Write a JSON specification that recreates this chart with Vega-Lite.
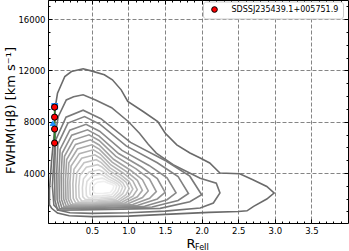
{
"$schema":"https://vega.github.io/schema/vega-lite/v6.json",
"width":300,"height":223,
"autosize":{"type":"none"},
"padding":{"left":48,"top":0,"right":1,"bottom":28},
"config":{"view":{"stroke":"black","strokeWidth":1},"font":"DejaVu Sans",
"axis":{"labelFont":"DejaVu Sans","labelFontSize":8.5,"labelColor":"black","tickColor":"black","titleFont":"DejaVu Sans","titleFontWeight":"normal","titleColor":"black","domain":false,"grid":false,"gridColor":"#666666","gridDash":[4,2],"gridWidth":0.8}},
"datasets":{
"cont":[
{"c":1,"i":0,"x":-0.08,"y":1530},{"c":1,"i":1,"x":-0.08,"y":2700},{"c":1,"i":2,"x":-0.05,"y":5035},{"c":1,"i":3,"x":-0.01,"y":7370},{"c":1,"i":4,"x":0.0,"y":9170},{"c":1,"i":5,"x":0.03,"y":10230},{"c":1,"i":6,"x":0.13,"y":11530},{"c":1,"i":7,"x":0.22,"y":11920},{"c":1,"i":8,"x":0.38,"y":12130},{"c":1,"i":9,"x":0.49,"y":11970},{"c":1,"i":10,"x":0.67,"y":11660},{"c":1,"i":11,"x":0.78,"y":11270},{"c":1,"i":12,"x":0.9,"y":10490},{"c":1,"i":13,"x":0.99,"y":9580},{"c":1,"i":14,"x":1.2,"y":8800},{"c":1,"i":15,"x":1.4,"y":8020},{"c":1,"i":16,"x":1.5,"y":7120},{"c":1,"i":17,"x":1.66,"y":6200},{"c":1,"i":18,"x":1.84,"y":5560},{"c":1,"i":19,"x":1.98,"y":5170},{"c":1,"i":20,"x":2.11,"y":4780},{"c":1,"i":21,"x":2.25,"y":4000},{"c":1,"i":22,"x":2.52,"y":3940},{"c":1,"i":23,"x":2.7,"y":3480},{"c":1,"i":24,"x":2.89,"y":2950},{"c":1,"i":25,"x":2.99,"y":2440},{"c":1,"i":26,"x":2.89,"y":1970},{"c":1,"i":27,"x":2.71,"y":1400},{"c":1,"i":28,"x":2.62,"y":1050},{"c":1,"i":29,"x":2.5,"y":1000},{"c":1,"i":30,"x":2.1,"y":930},{"c":1,"i":31,"x":1.5,"y":770},{"c":1,"i":32,"x":1.0,"y":640},{"c":1,"i":33,"x":0.5,"y":600},{"c":1,"i":34,"x":0.19,"y":660},{"c":1,"i":35,"x":0.03,"y":880},{"c":1,"i":36,"x":-0.05,"y":1250},
{"c":2,"i":0,"x":-0.02,"y":1500},{"c":2,"i":1,"x":-0.04,"y":3000},{"c":2,"i":2,"x":-0.02,"y":5000},{"c":2,"i":3,"x":0.0,"y":7000},{"c":2,"i":4,"x":0.04,"y":8400},{"c":2,"i":5,"x":0.15,"y":9700},{"c":2,"i":6,"x":0.25,"y":9950},{"c":2,"i":7,"x":0.38,"y":10100},{"c":2,"i":8,"x":0.55,"y":9700},{"c":2,"i":9,"x":0.77,"y":9100},{"c":2,"i":10,"x":1.0,"y":8000},{"c":2,"i":11,"x":1.15,"y":7100},{"c":2,"i":12,"x":1.27,"y":6250},{"c":2,"i":13,"x":1.38,"y":5550},{"c":2,"i":14,"x":1.61,"y":4650},{"c":2,"i":15,"x":1.98,"y":3600},{"c":2,"i":16,"x":2.2,"y":3200},{"c":2,"i":17,"x":2.25,"y":2450},{"c":2,"i":18,"x":2.16,"y":1660},{"c":2,"i":19,"x":1.98,"y":1270},{"c":2,"i":20,"x":1.5,"y":1030},{"c":2,"i":21,"x":1.0,"y":900},{"c":2,"i":22,"x":0.5,"y":850},{"c":2,"i":23,"x":0.2,"y":900},{"c":2,"i":24,"x":0.05,"y":1100},
{"c":3,"i":0,"x":0.03,"y":1100},{"c":3,"i":1,"x":-0.005,"y":1880},{"c":3,"i":2,"x":-0.01,"y":4220},{"c":3,"i":3,"x":0.005,"y":6560},{"c":3,"i":4,"x":0.146,"y":8354},{"c":3,"i":5,"x":0.38,"y":8900},{"c":3,"i":6,"x":0.623,"y":8240},{"c":3,"i":7,"x":1.028,"y":6392},{"c":3,"i":8,"x":1.514,"y":4940},{"c":3,"i":9,"x":1.838,"y":3752},{"c":3,"i":10,"x":2.0,"y":2300},{"c":3,"i":11,"x":1.838,"y":1760},{"c":3,"i":12,"x":1.433,"y":1244},{"c":3,"i":13,"x":0.38,"y":1124},
{"c":4,"i":0,"x":0.06,"y":1200},{"c":4,"i":1,"x":0.025,"y":1920},{"c":4,"i":2,"x":0.02,"y":4080},{"c":4,"i":3,"x":0.035,"y":6240},{"c":4,"i":4,"x":0.172,"y":7896},{"c":4,"i":5,"x":0.4,"y":8400},{"c":4,"i":6,"x":0.613,"y":7800},{"c":4,"i":7,"x":0.968,"y":6120},{"c":4,"i":8,"x":1.394,"y":4800},{"c":4,"i":9,"x":1.678,"y":3720},{"c":4,"i":10,"x":1.82,"y":2400},{"c":4,"i":11,"x":1.678,"y":1860},{"c":4,"i":12,"x":1.323,"y":1344},{"c":4,"i":13,"x":0.4,"y":1224},
{"c":5,"i":0,"x":0.09,"y":1270},{"c":5,"i":1,"x":0.055,"y":1923},{"c":5,"i":2,"x":0.05,"y":3882},{"c":5,"i":3,"x":0.065,"y":5841},{"c":5,"i":4,"x":0.198,"y":7343},{"c":5,"i":5,"x":0.42,"y":7800},{"c":5,"i":6,"x":0.605,"y":7265},{"c":5,"i":7,"x":0.912,"y":5767},{"c":5,"i":8,"x":1.281,"y":4590},{"c":5,"i":9,"x":1.527,"y":3627},{"c":5,"i":10,"x":1.65,"y":2450},{"c":5,"i":11,"x":1.527,"y":1919},{"c":5,"i":12,"x":1.22,"y":1412},{"c":5,"i":13,"x":0.42,"y":1294},
{"c":6,"i":0,"x":0.12,"y":1340},{"c":6,"i":1,"x":0.085,"y":1943},{"c":6,"i":2,"x":0.08,"y":3752},{"c":6,"i":3,"x":0.095,"y":5561},{"c":6,"i":4,"x":0.224,"y":6948},{"c":6,"i":5,"x":0.44,"y":7370},{"c":6,"i":6,"x":0.599,"y":6883},{"c":6,"i":7,"x":0.864,"y":5519},{"c":6,"i":8,"x":1.182,"y":4448},{"c":6,"i":9,"x":1.394,"y":3571},{"c":6,"i":10,"x":1.5,"y":2500},{"c":6,"i":11,"x":1.394,"y":1978},{"c":6,"i":12,"x":1.129,"y":1479},{"c":6,"i":13,"x":0.44,"y":1363},
{"c":7,"i":0,"x":0.15,"y":1400},{"c":7,"i":1,"x":0.115,"y":1958},{"c":7,"i":2,"x":0.11,"y":3632},{"c":7,"i":3,"x":0.125,"y":5306},{"c":7,"i":4,"x":0.25,"y":6589},{"c":7,"i":5,"x":0.46,"y":6980},{"c":7,"i":6,"x":0.598,"y":6537},{"c":7,"i":7,"x":0.828,"y":5297},{"c":7,"i":8,"x":1.104,"y":4322},{"c":7,"i":9,"x":1.288,"y":3525},{"c":7,"i":10,"x":1.38,"y":2550},{"c":7,"i":11,"x":1.288,"y":2032},{"c":7,"i":12,"x":1.058,"y":1538},{"c":7,"i":13,"x":0.46,"y":1423},
{"c":8,"i":0,"x":0.18,"y":1460},{"c":8,"i":1,"x":0.145,"y":1973},{"c":8,"i":2,"x":0.14,"y":3512},{"c":8,"i":3,"x":0.155,"y":5051},{"c":8,"i":4,"x":0.276,"y":6231},{"c":8,"i":5,"x":0.48,"y":6590},{"c":8,"i":6,"x":0.599,"y":6191},{"c":8,"i":7,"x":0.796,"y":5074},{"c":8,"i":8,"x":1.033,"y":4196},{"c":8,"i":9,"x":1.191,"y":3478},{"c":8,"i":10,"x":1.27,"y":2600},{"c":8,"i":11,"x":1.191,"y":2087},{"c":8,"i":12,"x":0.993,"y":1597},{"c":8,"i":13,"x":0.48,"y":1483},
{"c":9,"i":0,"x":0.21,"y":1520},{"c":9,"i":1,"x":0.175,"y":1988},{"c":9,"i":2,"x":0.17,"y":3392},{"c":9,"i":3,"x":0.185,"y":4796},{"c":9,"i":4,"x":0.302,"y":5872},{"c":9,"i":5,"x":0.5,"y":6200},{"c":9,"i":6,"x":0.604,"y":5845},{"c":9,"i":7,"x":0.776,"y":4851},{"c":9,"i":8,"x":0.983,"y":4070},{"c":9,"i":9,"x":1.121,"y":3431},{"c":9,"i":10,"x":1.19,"y":2650},{"c":9,"i":11,"x":1.121,"y":2141},{"c":9,"i":12,"x":0.948,"y":1656},{"c":9,"i":13,"x":0.5,"y":1543},
{"c":10,"i":0,"x":0.24,"y":1580},{"c":10,"i":1,"x":0.205,"y":2003},{"c":10,"i":2,"x":0.2,"y":3272},{"c":10,"i":3,"x":0.215,"y":4541},{"c":10,"i":4,"x":0.328,"y":5514},{"c":10,"i":5,"x":0.52,"y":5810},{"c":10,"i":6,"x":0.61,"y":5499},{"c":10,"i":7,"x":0.76,"y":4628},{"c":10,"i":8,"x":0.94,"y":3944},{"c":10,"i":9,"x":1.06,"y":3384},{"c":10,"i":10,"x":1.12,"y":2700},{"c":10,"i":11,"x":1.06,"y":2196},{"c":10,"i":12,"x":0.91,"y":1714},{"c":10,"i":13,"x":0.52,"y":1602},
{"c":11,"i":0,"x":0.28,"y":1650},{"c":11,"i":1,"x":0.245,"y":2027},{"c":11,"i":2,"x":0.24,"y":3158},{"c":11,"i":3,"x":0.255,"y":4289},{"c":11,"i":4,"x":0.36,"y":5156},{"c":11,"i":5,"x":0.54,"y":5420},{"c":11,"i":6,"x":0.618,"y":5153},{"c":11,"i":7,"x":0.748,"y":4405},{"c":11,"i":8,"x":0.904,"y":3818},{"c":11,"i":9,"x":1.008,"y":3337},{"c":11,"i":10,"x":1.06,"y":2750},{"c":11,"i":11,"x":1.008,"y":2255},{"c":11,"i":12,"x":0.878,"y":1782},{"c":11,"i":13,"x":0.54,"y":1672},
{"c":12,"i":0,"x":0.32,"y":1720},{"c":12,"i":1,"x":0.285,"y":2052},{"c":12,"i":2,"x":0.28,"y":3048},{"c":12,"i":3,"x":0.295,"y":4044},{"c":12,"i":4,"x":0.392,"y":4808},{"c":12,"i":5,"x":0.56,"y":5040},{"c":12,"i":6,"x":0.628,"y":4816},{"c":12,"i":7,"x":0.74,"y":4189},{"c":12,"i":8,"x":0.875,"y":3696},{"c":12,"i":9,"x":0.965,"y":3293},{"c":12,"i":10,"x":1.01,"y":2800},{"c":12,"i":11,"x":0.965,"y":2314},{"c":12,"i":12,"x":0.852,"y":1850},{"c":12,"i":13,"x":0.56,"y":1742},
{"c":13,"i":0,"x":0.36,"y":1820},{"c":13,"i":1,"x":0.325,"y":2103},{"c":13,"i":2,"x":0.32,"y":2952},{"c":13,"i":3,"x":0.335,"y":3801},{"c":13,"i":4,"x":0.424,"y":4452},{"c":13,"i":5,"x":0.58,"y":4650},{"c":13,"i":6,"x":0.637,"y":4470},{"c":13,"i":7,"x":0.732,"y":3966},{"c":13,"i":8,"x":0.846,"y":3570},{"c":13,"i":9,"x":0.922,"y":3246},{"c":13,"i":10,"x":0.96,"y":2850},{"c":13,"i":11,"x":0.922,"y":2386},{"c":13,"i":12,"x":0.827,"y":1944},{"c":13,"i":13,"x":0.58,"y":1841},
{"c":14,"i":0,"x":0.41,"y":1930},{"c":14,"i":1,"x":0.375,"y":2162},{"c":14,"i":2,"x":0.37,"y":2858},{"c":14,"i":3,"x":0.385,"y":3554},{"c":14,"i":4,"x":0.462,"y":4088},{"c":14,"i":5,"x":0.6,"y":4250},{"c":14,"i":6,"x":0.648,"y":4115},{"c":14,"i":7,"x":0.728,"y":3737},{"c":14,"i":8,"x":0.824,"y":3440},{"c":14,"i":9,"x":0.888,"y":3197},{"c":14,"i":10,"x":0.92,"y":2900},{"c":14,"i":11,"x":0.888,"y":2464},{"c":14,"i":12,"x":0.808,"y":2046},{"c":14,"i":13,"x":0.6,"y":1949},
{"c":15,"i":0,"x":0.455,"y":2050},{"c":15,"i":1,"x":0.425,"y":2235},{"c":15,"i":2,"x":0.42,"y":2790},{"c":15,"i":3,"x":0.432,"y":3345},{"c":15,"i":4,"x":0.5,"y":3770},{"c":15,"i":5,"x":0.62,"y":3900},{"c":15,"i":6,"x":0.659,"y":3805},{"c":15,"i":7,"x":0.724,"y":3539},{"c":15,"i":8,"x":0.802,"y":3330},{"c":15,"i":9,"x":0.854,"y":3159},{"c":15,"i":10,"x":0.88,"y":2950},{"c":15,"i":11,"x":0.854,"y":2545},{"c":15,"i":12,"x":0.789,"y":2158},{"c":15,"i":13,"x":0.62,"y":2068},
{"c":16,"i":0,"x":0.5,"y":2200},{"c":16,"i":1,"x":0.474,"y":2340},{"c":16,"i":2,"x":0.47,"y":2760},{"c":16,"i":3,"x":0.48,"y":3180},{"c":16,"i":4,"x":0.538,"y":3502},{"c":16,"i":5,"x":0.64,"y":3600},{"c":16,"i":6,"x":0.67,"y":3540},{"c":16,"i":7,"x":0.72,"y":3372},{"c":16,"i":8,"x":0.78,"y":3240},{"c":16,"i":9,"x":0.82,"y":3132},{"c":16,"i":10,"x":0.84,"y":3000},{"c":16,"i":11,"x":0.82,"y":2640},{"c":16,"i":12,"x":0.77,"y":2296},{"c":16,"i":13,"x":0.64,"y":2216},
{"c":17,"i":0,"x":0.55,"y":2400},{"c":17,"i":1,"x":0.523,"y":2495},{"c":17,"i":2,"x":0.52,"y":2780},{"c":17,"i":3,"x":0.528,"y":3065},{"c":17,"i":4,"x":0.576,"y":3284},{"c":17,"i":5,"x":0.66,"y":3350},{"c":17,"i":6,"x":0.681,"y":3315},{"c":17,"i":7,"x":0.716,"y":3217},{"c":17,"i":8,"x":0.758,"y":3140},{"c":17,"i":9,"x":0.786,"y":3077},{"c":17,"i":10,"x":0.8,"y":3000},{"c":17,"i":11,"x":0.786,"y":2730},{"c":17,"i":12,"x":0.751,"y":2472},{"c":17,"i":13,"x":0.66,"y":2412}
],
"pts":[{"x":-0.01,"y":9140,"name":"SDSSJ235439.1+005751.9"},{"x":-0.01,"y":8360,"name":"SDSSJ235439.1+005751.9"},{"x":-0.01,"y":7430,"name":"SDSSJ235439.1+005751.9"},{"x":-0.01,"y":6340,"name":"SDSSJ235439.1+005751.9"}],
"blue":[{"x":-0.008,"y":9200,"m":"square"},{"x":-0.034,"y":7900,"m":"triangle-up"}]
},
"resolve":{"axis":{"x":"independent","y":"independent"}},
"layer":[
{"data":{"name":"cont"},
 "mark":{"type":"line","interpolate":"linear-closed","strokeWidth":1.6,"clip":true},
 "encoding":{
  "x":{"field":"x","type":"quantitative","scale":{"domain":[-0.1,4.0],"nice":false,"zero":false},
   "axis":{"orient":"bottom","values":[0.5,1,1.5,2,2.5,3,3.5],"format":".1f","grid":true,"tickSize":-4,"labelPadding":7,"title":"R","titleFontSize":13,"titleAlign":"left","titleBaseline":"alphabetic","titleX":138,"titleY":24}},
  "y":{"field":"y","type":"quantitative","scale":{"domain":[100,17500],"nice":false,"zero":false},
   "axis":{"orient":"left","values":[4000,8000,12000,16000],"format":"d","grid":true,"tickSize":-4,"labelPadding":7,"title":"FWHM(Hβ) [km s⁻¹]","titleFontSize":13,"titleAngle":-90,"titleAlign":"center","titleBaseline":"alphabetic","titleX":-34,"titleY":110}},
  "color":{"field":"c","type":"quantitative","scale":{"domain":[1,17],"range":["#6a6a6a","#efefef"]},"legend":null},
  "detail":{"field":"c","type":"nominal"},
  "order":{"field":"i","type":"quantitative"}}},
{"data":{"name":"pts"},
 "mark":{"type":"line","color":"#2e8b2e","strokeWidth":1.5},
 "encoding":{
  "x":{"field":"x","type":"quantitative","scale":{"domain":[-0.1,4.0],"nice":false,"zero":false},
   "axis":{"orient":"bottom","values":[-0.1,0,0.1,0.2,0.3,0.4,0.6,0.7,0.8,0.9,1.1,1.2,1.3,1.4,1.6,1.7,1.8,1.9,2.1,2.2,2.3,2.4,2.6,2.7,2.8,2.9,3.1,3.2,3.3,3.4,3.6,3.7,3.8,3.9],"labels":false,"tickSize":-2,"title":"FeII","titleFontSize":8,"titleAlign":"left","titleBaseline":"alphabetic","titleX":146.5,"titleY":26}},
  "y":{"field":"y","type":"quantitative","scale":{"domain":[100,17500],"nice":false,"zero":false},
   "axis":{"orient":"left","values":[1000,2000,3000,5000,6000,7000,9000,10000,11000,13000,14000,15000,17000],"labels":false,"tickSize":-2,"title":null}},
  "order":{"field":"y","type":"quantitative"}}},
{"data":{"name":"blue"},
 "mark":{"type":"point","filled":true,"color":"#1e90ff","size":45,"opacity":1},
 "encoding":{
  "x":{"field":"x","type":"quantitative","scale":{"domain":[-0.1,4.0],"nice":false,"zero":false},
   "axis":{"orient":"top","values":[0.5,1,1.5,2,2.5,3,3.5],"labels":false,"tickSize":-4,"title":null}},
  "y":{"field":"y","type":"quantitative","scale":{"domain":[100,17500],"nice":false,"zero":false},
   "axis":{"orient":"right","values":[4000,8000,12000,16000],"labels":false,"tickSize":-4,"title":null}},
  "shape":{"field":"m","type":"nominal","scale":{"domain":["square","triangle-up"],"range":["square","triangle-up"]},"legend":null}}},
{"data":{"name":"pts"},
 "mark":{"type":"point","filled":true,"stroke":"black","strokeWidth":1,"size":38,"opacity":1,"shape":"circle"},
 "encoding":{
  "x":{"field":"x","type":"quantitative","scale":{"domain":[-0.1,4.0],"nice":false,"zero":false},
   "axis":{"orient":"top","values":[-0.1,0,0.1,0.2,0.3,0.4,0.6,0.7,0.8,0.9,1.1,1.2,1.3,1.4,1.6,1.7,1.8,1.9,2.1,2.2,2.3,2.4,2.6,2.7,2.8,2.9,3.1,3.2,3.3,3.4,3.6,3.7,3.8,3.9],"labels":false,"tickSize":-2,"title":null}},
  "y":{"field":"y","type":"quantitative","scale":{"domain":[100,17500],"nice":false,"zero":false},
   "axis":{"orient":"right","values":[1000,2000,3000,5000,6000,7000,9000,10000,11000,13000,14000,15000,17000],"labels":false,"tickSize":-2,"title":null}},
  "fill":{"field":"name","type":"nominal","scale":{"range":["#ff0000"]},
   "legend":{"title":null,"orient":"none","legendX":155,"legendY":1.5,"padding":4,"symbolOffset":3.5,"symbolType":"circle","symbolSize":32,"symbolStrokeColor":"black","symbolStrokeWidth":1,"labelFont":"DejaVu Sans","labelFontSize":8,"labelColor":"black","labelOffset":13,"fillColor":"white","strokeColor":"#cccccc","cornerRadius":3}}}}
]
}
